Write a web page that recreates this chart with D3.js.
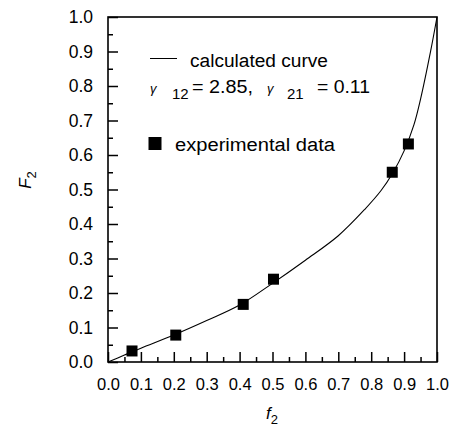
<!DOCTYPE html>
<html>
<head>
<meta charset="utf-8">
<script src="https://cdn.jsdelivr.net/npm/d3@7"></script>
<style>
  body { margin: 0; background: #fff; }
  svg { font-family: "Liberation Sans", Arial, sans-serif; }
  .tick text { fill: #000; }
</style>
</head>
<body>
<div id="chart"></div>
<script>
// calculated curve
var curveF2small = [0, 0.05, 0.1, 0.2, 0.3, 0.4, 0.5, 0.6, 0.7, 0.78, 0.83, 0.865, 0.9, 0.93, 0.95, 0.98, 1.0];
var curveF2big   = [0, 0.02, 0.04, 0.078, 0.12, 0.165, 0.228, 0.295, 0.366, 0.442, 0.497, 0.547, 0.612, 0.688, 0.762, 0.898, 1.0];

// experimental data
var expF2small = [0.073, 0.206, 0.411, 0.503, 0.864, 0.913];
var expF2big   = [0.032, 0.078, 0.167, 0.24, 0.55, 0.632];

var tickValues = [0, 0.1, 0.2, 0.3, 0.4, 0.5, 0.6, 0.7, 0.8, 0.9, 1.0];
var minorTicks = [0.05, 0.15, 0.25, 0.35, 0.45, 0.55, 0.65, 0.75, 0.85, 0.95];

var margin = { top: 17, right: 16, bottom: 65, left: 108 };
var width = 453 - margin.left - margin.right,
    height = 427 - margin.top - margin.bottom;

var root = d3.select("#chart").append("svg")
    .attr("width", 453)
    .attr("height", 427);
var svg = root.append("g")
    .attr("transform", "translate(" + margin.left + "," + margin.top + ")");

// Scales
var x = d3.scaleLinear().domain([0, 1]).range([0, width]);
var y = d3.scaleLinear().domain([0, 1]).range([height, 0]);

// minor ticks (inward)
svg.append("g")
    .attr("transform", "translate(0," + height + ")")
    .call(d3.axisTop(x).tickValues(minorTicks).tickSize(5).tickFormat(""))
    .call(function(g) { g.select(".domain").remove(); })
    .selectAll("line").attr("stroke-width", 1.5);
svg.append("g")
    .call(d3.axisRight(y).tickValues(minorTicks).tickSize(5).tickFormat(""))
    .call(function(g) { g.select(".domain").remove(); })
    .selectAll("line").attr("stroke-width", 1.5);

// major ticks (inward) + labels
var xAxis = svg.append("g")
    .attr("transform", "translate(0," + height + ")")
    .call(d3.axisTop(x).tickValues(tickValues).tickSize(10).tickFormat(d3.format(".1f")));
xAxis.select(".domain").remove();
xAxis.selectAll("line").attr("stroke-width", 1.5);
xAxis.selectAll("text")
    .attr("y", 28).attr("dy", null)
    .attr("font-size", 16.5);

var yAxis = svg.append("g")
    .call(d3.axisRight(y).tickValues(tickValues).tickSize(10).tickFormat(d3.format(".1f")));
yAxis.select(".domain").remove();
yAxis.selectAll("line").attr("stroke-width", 1.5);
yAxis.selectAll("text")
    .attr("x", -15).attr("text-anchor", "end")
    .attr("font-size", 17.5);

// frame
svg.append("rect")
    .attr("width", width)
    .attr("height", height)
    .attr("fill", "none")
    .attr("stroke", "#000")
    .attr("stroke-width", 1.6);

// curve
var line = d3.line()
    .x(function(d, i) { return x(curveF2small[i]); })
    .y(function(d) { return y(d); })
    .curve(d3.curveCatmullRom);

svg.append("path")
    .datum(curveF2big)
    .attr("d", line)
    .attr("fill", "none")
    .attr("stroke", "#000")
    .attr("stroke-width", 1.1);

// points
svg.selectAll(".pt")
    .data(expF2big)
  .enter().append("rect")
    .attr("class", "pt")
    .attr("x", function(d, i) { return x(expF2small[i]) - 5.5; })
    .attr("y", function(d) { return y(d) - 5.5; })
    .attr("width", 11)
    .attr("height", 11)
    .attr("fill", "#000");

// legend (page coordinates)
var leg = root.append("g");
leg.append("line")
    .attr("x1", 150).attr("x2", 177)
    .attr("y1", 58.5).attr("y2", 58.5)
    .attr("stroke", "#000").attr("stroke-width", 1);
leg.append("text")
    .attr("x", 190).attr("y", 67)
    .attr("font-size", 18)
    .attr("textLength", 138).attr("lengthAdjust", "spacingAndGlyphs")
    .text("calculated curve");

leg.append("text").attr("x", 150).attr("y", 93).attr("font-size", 13)
    .attr("font-style", "italic").text("γ");
leg.append("text").attr("x", 172).attr("y", 99).attr("font-size", 15).text("12");
leg.append("text").attr("x", 192).attr("y", 93).attr("font-size", 18)
    .attr("textLength", 61).attr("lengthAdjust", "spacingAndGlyphs").text("= 2.85,");
leg.append("text").attr("x", 267).attr("y", 93).attr("font-size", 13)
    .attr("font-style", "italic").text("γ");
leg.append("text").attr("x", 287).attr("y", 99).attr("font-size", 15).text("21");
leg.append("text").attr("x", 317).attr("y", 93).attr("font-size", 18)
    .attr("textLength", 53).attr("lengthAdjust", "spacingAndGlyphs").text("= 0.11");

leg.append("rect")
    .attr("x", 148.5).attr("y", 137)
    .attr("width", 13).attr("height", 13)
    .attr("fill", "#000");
leg.append("text")
    .attr("x", 175).attr("y", 151)
    .attr("font-size", 18)
    .attr("textLength", 160).attr("lengthAdjust", "spacingAndGlyphs")
    .text("experimental data");

// axis titles
var xt = root.append("text")
    .attr("x", 266)
    .attr("y", 419)
    .attr("font-size", 17);
xt.append("tspan").attr("font-style", "italic").text("f");
xt.append("tspan").attr("dy", 5).attr("font-size", 13).text("2");

var yt = root.append("text")
    .attr("transform", "translate(31,180) rotate(-90)")
    .attr("font-size", 17)
    .attr("text-anchor", "middle");
yt.append("tspan").attr("font-style", "italic").text("F");
yt.append("tspan").attr("dy", 5).attr("font-size", 13).text("2");
</script>
</body>
</html>
